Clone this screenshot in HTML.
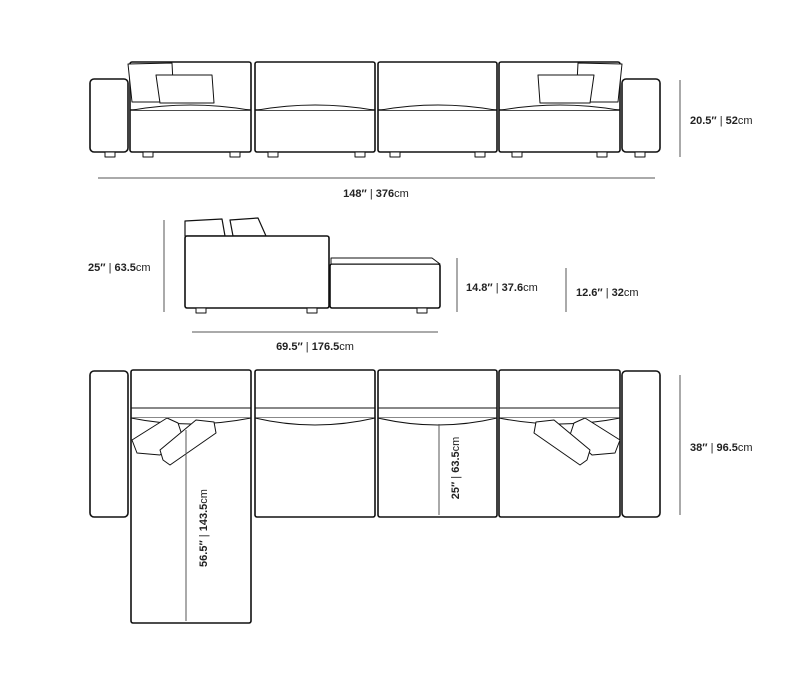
<!DOCTYPE html>
<html><head><style>
html,body{margin:0;padding:0;background:#fff;width:788px;height:684px;overflow:hidden}
svg text{font-family:"Liberation Sans",sans-serif;font-size:11px;fill:#222}
.b{font-weight:bold}
</style></head><body>
<svg width="788" height="684" viewBox="0 0 788 684" xmlns="http://www.w3.org/2000/svg">
<g fill="#fff" stroke="#111" stroke-width="1.6" stroke-linejoin="round">
<!-- FRONT VIEW -->
<rect x="90" y="79" width="38" height="73" rx="4"/>
<rect x="622" y="79" width="38" height="73" rx="4"/>
<rect x="130" y="62" width="121" height="90" rx="2"/>
<rect x="255" y="62" width="120" height="90" rx="2"/>
<rect x="378" y="62" width="119" height="90" rx="2"/>
<rect x="499" y="62" width="121" height="90" rx="2"/>
<path d="M130 110H251M255 110H375M378 110H497M499 110H620" />
<path d="M133 110Q190 100 249 110M258 110Q315 100 373 110M381 110Q438 100 495 110M502 110Q560 100 618 110" stroke-width="1"/>
<path d="M128 64L172 63L174 102H132Z" stroke-width="1"/>
<path d="M156 75L212 75L214 103H160Z" stroke-width="1"/>
<path d="M622 64L578 63L576 102H618Z" stroke-width="1"/>
<path d="M538 75L594 75L590 103H540Z" stroke-width="1"/>
<g stroke-width="1"><rect x="105" y="152" width="10" height="5"/><rect x="143" y="152" width="10" height="5"/><rect x="230" y="152" width="10" height="5"/><rect x="268" y="152" width="10" height="5"/><rect x="355" y="152" width="10" height="5"/><rect x="390" y="152" width="10" height="5"/><rect x="475" y="152" width="10" height="5"/><rect x="512" y="152" width="10" height="5"/><rect x="597" y="152" width="10" height="5"/><rect x="635" y="152" width="10" height="5"/></g>
<!-- SIDE VIEW -->
<path d="M185 221L222 219L225 236H185Z" stroke-width="1.2"/>
<path d="M230 220L258 218L266 236H233Z" stroke-width="1.2"/>
<rect x="185" y="236" width="144" height="72" rx="2"/>
<rect x="330" y="264" width="110" height="44" rx="2"/>
<path d="M331 258H432L440 264H331Z" stroke-width="1"/>
<g stroke-width="1"><rect x="196" y="308" width="10" height="5"/><rect x="307" y="308" width="10" height="5"/><rect x="417" y="308" width="10" height="5"/></g>
<!-- TOP VIEW -->
<rect x="90" y="371" width="38" height="146" rx="4"/>
<rect x="622" y="371" width="38" height="146" rx="4"/>
<rect x="131" y="370" width="120" height="253" rx="2"/>
<rect x="255" y="370" width="120" height="147" rx="2"/>
<rect x="378" y="370" width="119" height="147" rx="2"/>
<rect x="499" y="370" width="121" height="147" rx="2"/>
<path d="M131 408H251M255 408H375M378 408H497M499 408H620M131 418H251M255 418H375M378 418H497M499 418H620" stroke-width="1"/>
<path d="M255 418Q315 432 375 418M378 418Q438 432 497 418M131 418Q190 430 251 418M499 418Q560 430 620 418" stroke-width="1"/>
<path d="M132 440L167 418L178 423L182 435L160 455L137 453Z" stroke-width="1"/>
<path d="M160 450L196 420L214 422L216 433L170 465L163 460Z" stroke-width="1"/>
<path d="M620 440L585 418L574 423L570 435L592 455L615 453Z" stroke-width="1"/>
<path d="M590 450L554 420L536 422L534 433L580 465L587 460Z" stroke-width="1"/>
</g>
<g stroke="#555" stroke-width="1" fill="none">
<path d="M98 178H655M680 80V157M164 220V312M192 332H438M457 258V312M566 268V312M680 375V515"/>
<path d="M439 424V515M186 430V621" stroke-dasharray="0"/>
</g>
<text x="376" y="197" text-anchor="middle"><tspan class="b">148″</tspan> | <tspan class="b">376</tspan>cm</text>
<text x="690" y="124"><tspan class="b">20.5″</tspan> | <tspan class="b">52</tspan>cm</text>
<text x="88" y="271"><tspan class="b">25″</tspan> | <tspan class="b">63.5</tspan>cm</text>
<text x="466" y="291"><tspan class="b">14.8″</tspan> | <tspan class="b">37.6</tspan>cm</text>
<text x="576" y="296"><tspan class="b">12.6″</tspan> | <tspan class="b">32</tspan>cm</text>
<text x="315" y="350" text-anchor="middle"><tspan class="b">69.5″</tspan> | <tspan class="b">176.5</tspan>cm</text>
<text x="690" y="451"><tspan class="b">38″</tspan> | <tspan class="b">96.5</tspan>cm</text>
<text transform="translate(459,468) rotate(-90)" text-anchor="middle"><tspan class="b">25″</tspan> | <tspan class="b">63.5</tspan>cm</text>
<text transform="translate(207,528) rotate(-90)" text-anchor="middle"><tspan class="b">56.5″</tspan> | <tspan class="b">143.5</tspan>cm</text>
</svg>
</body></html>
